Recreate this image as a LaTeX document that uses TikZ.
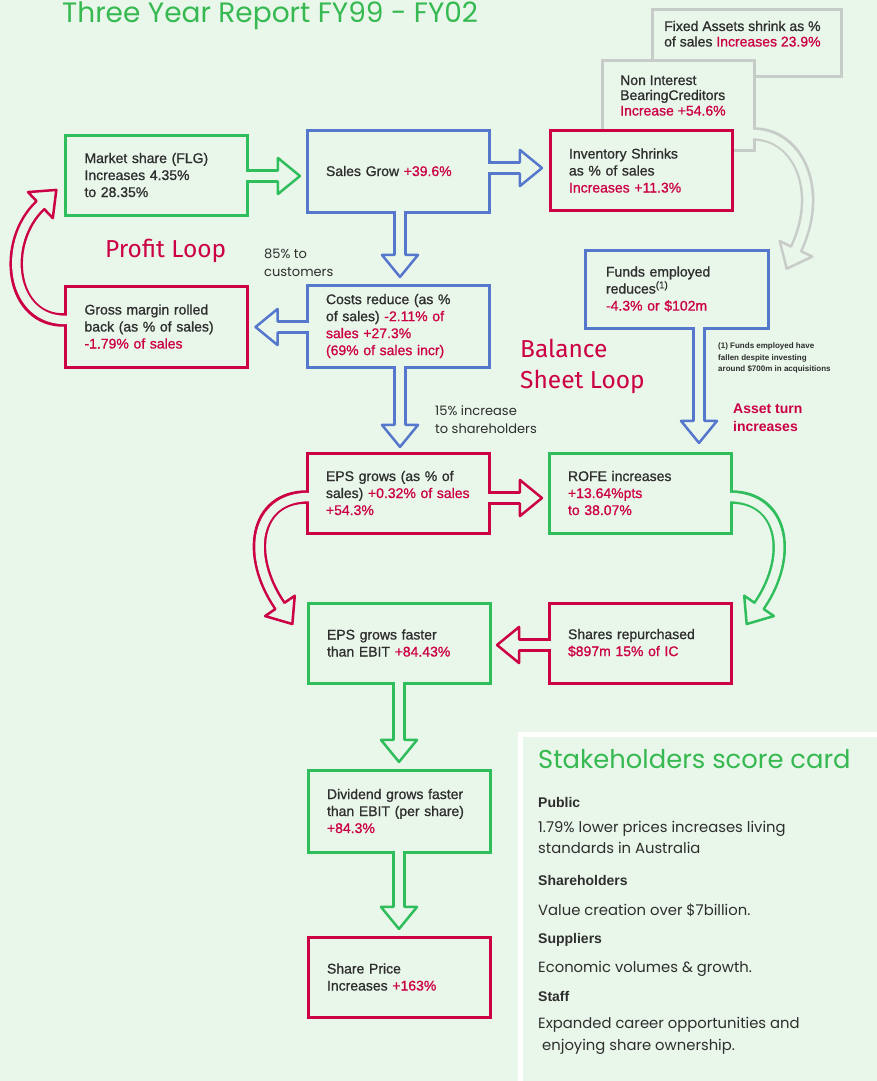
\documentclass[tikz,border=0pt]{standalone}
\usepackage{fontspec}
\setmainfont{Liberation Sans}
\newfontfamily\geo{Poppins}
\newfontfamily\fira{Fira Sans}
\newfontfamily\boxfont{Liberation Sans}[FakeBold=0.9]
\usetikzlibrary{calc,decorations.markings}
\definecolor{bgc}{HTML}{E9F6EA}
\definecolor{grn}{HTML}{30BE5C}
\definecolor{blu}{HTML}{5577CC}
\definecolor{hl}{HTML}{CC0044}
\definecolor{gry}{HTML}{C8CCC8}
\definecolor{txt}{HTML}{2E2E2E}
\definecolor{ttl}{HTML}{35B950}
\newcommand\hv[1]{\textcolor{hl}{#1}}
\newcommand\harrow[2]{%
  \draw[#1, line width=13.5pt] #2;
  \draw[bgc, line width=8.5pt, shorten <=-2pt] #2;
  \path[decoration={markings, mark=at position 0.999 with {\filldraw[fill=bgc, draw=#1, line width=2.5pt, line join=round, line cap=round] (0,5.5) -- (0,18) -- (22,0) -- (0,-18) -- (0,-5.5);}}, postaction={decorate}] #2;
}
\tikzset{
  box/.style={draw=#1, line width=3pt, fill=bgc, minimum width=182, minimum height=80, text width=144, inner xsep=19, inner ysep=0, align=left, outer sep=0, text=txt, font=\boxfont\fontsize{14}{17}\selectfont},
  gbox/.style={draw=gry, line width=3pt, fill=bgc, outer sep=0, inner sep=0},
  gtext/.style={anchor=base west, inner sep=0, text=txt, font=\boxfont\fontsize{14}{15.5}\selectfont},
  lbl/.style={anchor=base west, inner sep=0, text=txt, font=\geo\fontsize{13}{14}\selectfont},
  big/.style={anchor=base west, inner sep=0, text=hl, font=\fira\fontsize{24.5}{26}\selectfont},
  head/.style={anchor=base west, inner sep=0, text=txt, font=\bfseries\fontsize{14}{16}\selectfont},
  body/.style={anchor=base west, inner sep=0, text=txt, font=\geo\fontsize{14.8}{16}\selectfont},
  foot/.style={anchor=base west, inner sep=0, text=txt, font=\bfseries\fontsize{8}{8}\selectfont},
}
\begin{document}
\begin{tikzpicture}[x=1pt,y=-1pt]
\useasboundingbox (0,0) rectangle (877,1081);
\fill[bgc] (0,0) rectangle (877,1081);

% title
\node[anchor=base west, inner sep=0, text=ttl, font=\geo\fontsize{28}{30}\selectfont] (title) at (62,23) {Three Year Report FY99 - FY02};

% score card panel
\draw[white, line width=5pt, fill=bgc] (520.5,734.5) rectangle (890,1090);
\node[anchor=base west, inner sep=0, text=ttl, font=\geo\fontsize{25.8}{28}\selectfont] (sctitle) at (538,768) {Stakeholders score card};
\node[head] (h1) at (538,807) {Public};
\node[body] (b1a) at (538,832) {1.79\% lower prices increases living};
\node[body] (b1b) at (538,853) {standards in Australia};
\node[head] (h2) at (538,885) {Shareholders};
\node[body] (b2) at (538,915) {Value creation over \$7billion.};
\node[head] (h3) at (538,943) {Suppliers};
\node[body] (b3) at (538,972) {Economic volumes \& growth.};
\node[head] (h4) at (538,1001) {Staff};
\node[body] (b4a) at (538,1028) {Expanded career opportunities and};
\node[body] (b4b) at (542,1050) {enjoying share ownership.};

% grey boxes
\node[gbox, minimum width=189, minimum height=66] (fixed) at (746.5,43) {};
\node[gtext] (fixedt1) at (664,31) {Fixed Assets shrink as \%};
\node[gtext] (fixedt2) at (664,46.5) {of sales \hv{Increases 23.9\%}};
\node[gbox, minimum width=152, minimum height=89] (nonint) at (678,105.5) {};
\node[gtext] (nonintt1) at (620,85) {Non Interest};
\node[gtext] (nonintt2) at (620,100) {BearingCreditors};
\node[gtext] (nonintt3) at (620,115.5) {\hv{Increase +54.6\%}};

% main boxes
\node[box=hl] (inventory) at (641,170.5) {Inventory Shrinks\\as \% of sales\\\hv{Increases +11.3\%}};
\node[box=grn] (market) at (156.5,175) {Market share (FLG)\\Increases 4.35\%\\to 28.35\%};
\node[box=blu, minimum height=82] (sales) at (398,171) {Sales Grow \hv{+39.6\%}};
\node[box=hl, minimum height=81] (gross) at (156.5,326.5) {Gross margin rolled\\back (as \% of sales)\\\hv{-1.79\% of sales}};
\node[box=blu, minimum height=82] (costs) at (398,326) {Costs reduce (as \%\\of sales) \hv{-2.11\% of}\\\hv{sales +27.3\%}\\\hv{(69\% of sales incr)}};
\node[box=blu, minimum height=78, minimum width=183, text width=141, inner xsep=21] (funds) at (676.5,289) {Funds employed\\reduces\textsuperscript{(1)}\\\hv{-4.3\% or \$102m}};
\node[box=hl] (eps) at (398,493) {EPS grows (as \% of\\sales) \hv{+0.32\% of sales}\\\hv{+54.3\%}};
\node[box=grn] (rofe) at (640,493) {ROFE increases\\\hv{+13.64\%pts}\\\hv{to 38.07\%}};
\node[box=grn] (epsf) at (399,643) {EPS grows faster\\than EBIT \hv{+84.43\%}};
\node[box=hl] (shares) at (640,643) {Shares repurchased\\\hv{\$897m 15\% of IC}};
\node[box=grn, minimum height=82] (div) at (399,811) {Dividend grows faster\\than EBIT (per share)\\\hv{+84.3\%}};
\node[box=hl] (price) at (399,977) {Share Price\\Increases \hv{+163\%}};

% labels
\node[big] (profit) at (105,257) {Profit Loop};
\node[lbl] (cust1) at (264,258) {85\% to};
\node[lbl] (cust2) at (264,276) {customers};
\node[big] (bal1) at (520,357) {Balance};
\node[big] (bal2) at (520,388) {Sheet Loop};
\node[lbl] (sh1) at (435,415) {15\% increase};
\node[lbl] (sh2) at (435,433) {to shareholders};
\node[anchor=base west, inner sep=0, text=hl, font=\bfseries\fontsize{14}{16}\selectfont] (at1) at (733,413) {Asset turn};
\node[anchor=base west, inner sep=0, text=hl, font=\bfseries\fontsize{14}{16}\selectfont] (at2) at (733,431) {increases};
\node[foot] (fn1) at (718,348) {(1) Funds employed have};
\node[foot] (fn2) at (718,360) {fallen despite investing};
\node[foot] (fn3) at (718,371) {around \$700m in acquisitions};

% arrows
\harrow{gry}{($(nonint.east)+(0,28.5)$) .. controls +(44,0) and +(28,-59) .. ($(funds.north east)+(28,-1)$)}
\harrow{grn}{($(market.east)+(0,1)$) -- ($(sales.west |- market.east)+(-29,1)$)}
\harrow{blu}{($(sales.east)+(0,-3)$) -- ($(inventory.west |- sales.east)+(-30,-3)$)}
\harrow{blu}{($(sales.south)+(2,0)$) -- ($(costs.north)+(2,-30)$)}
\harrow{blu}{($(costs.west)+(0,1)$) -- ($(gross.east |- costs.west)+(30,1)$)}
\harrow{blu}{($(costs.south)+(2,0)$) -- ($(eps.north)+(2,-28)$)}
\harrow{blu}{($(funds.south)+(22.5,0)$) -- ($(funds.south |- rofe.north)+(22.5,-32)$)}
\harrow{hl}{($(eps.east)+(0,5)$) -- ($(rofe.west |- eps.east)+(-29,5)$)}
\harrow{hl}{($(shares.west)+(0,2)$) -- ($(epsf.east |- shares.west)+(29,2)$)}
\harrow{grn}{(epsf.south) -- ($(div.north)+(0,-30)$)}
\harrow{grn}{(div.south) -- ($(price.north)+(0,-30)$)}
\harrow{hl}{($(gross.west)+(0,-6.5)$) .. controls +(-55,2) and +(-40,38) .. ($(market.south west)+(-25,-10)$)}
\harrow{hl}{($(eps.west)+(0,4)$) .. controls +(-52,0) and +(-35,-51) .. ($(epsf.north west)+(-28,3)$)}
\harrow{grn}{($(rofe.east)+(0,4)$) .. controls +(52,0) and +(35,-51) .. ($(shares.north east)+(28,3)$)}
\end{tikzpicture}
\end{document}
